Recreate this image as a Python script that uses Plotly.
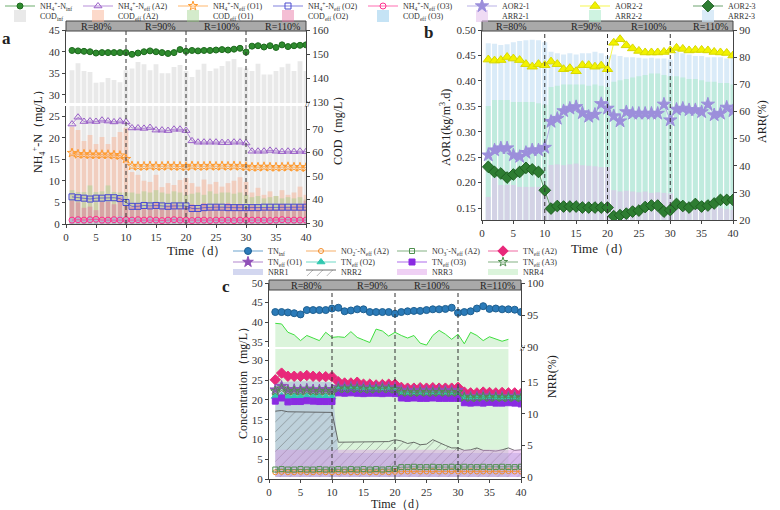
import plotly.graph_objects as go

SERIF = "Liberation Serif"
W, H = 780, 510


def px(v):
    return v / W


def py(v):
    return 1 - v / H


# ---------------- data ----------------
days = list(range(1, 41))
days_nrr4 = list(range(1, 39))
period_labels = ["R=80%", "R=90%", "R=100%", "R=110%"]
period_bounds = [10, 20, 30]
x_tickvals = [0, 5, 10, 15, 20, 25, 30, 35, 40]

# Panel a: NH4+-N (mg/L)
nh4_inf = [40.3, 40.2, 40.1, 40.0, 39.7, 39.8, 39.8, 39.8, 39.8, 39.8,
           39.4, 39.7, 40.0, 40.2, 40.0, 39.8, 39.6, 39.8, 40.5, 40.1,
           40.3, 40.2, 40.3, 40.3, 40.4, 40.5, 40.4, 40.6, 40.8, 39.9,
           41.3, 41.4, 41.1, 41.4, 41.0, 41.6, 41.2, 41.4, 41.5, 41.6]
nh4_a2 = [23.2, 24.8, 23.8, 23.9, 23.8, 24.1, 23.9, 23.7, 23.9, 23.7,
          22.3, 22.3, 22.2, 22.4, 21.8, 21.8, 21.7, 22.0, 22.0, 21.7,
          19.3, 19.0, 19.0, 19.0, 19.0, 18.9, 18.9, 19.0, 19.0, 18.8,
          16.9, 16.9, 16.9, 17.1, 16.9, 16.8, 16.9, 16.8, 16.9, 16.8]
nh4_o1 = [16.5, 16.2, 16.2, 16.1, 16.1, 16.1, 16.1, 16.0, 15.9, 15.1,
          13.5, 13.4, 13.4, 13.5, 13.4, 13.4, 13.5, 13.4, 13.4, 13.3,
          13.5, 13.4, 13.4, 13.5, 13.4, 13.5, 13.4, 13.5, 13.4, 13.3,
          13.2, 13.2, 13.3, 13.2, 13.2, 13.2, 13.3, 13.2, 13.2, 13.1]
nh4_o2 = [6.3, 6.1, 6.0, 5.8, 6.0, 6.0, 6.1, 6.1, 5.9, 5.0,
          4.1, 4.1, 4.3, 4.2, 4.3, 4.2, 4.1, 4.2, 4.2, 4.2,
          3.6, 3.6, 3.8, 3.9, 3.9, 3.9, 3.8, 3.8, 3.8, 3.8,
          3.8, 3.8, 3.9, 3.9, 3.9, 3.9, 3.9, 3.9, 3.9, 3.9]
nh4_o3 = [0.9, 1.0, 0.9, 1.0, 1.1, 0.9, 0.9, 1.0, 0.9, 1.0,
          0.9, 1.0, 0.9, 1.0, 0.9, 0.8, 0.9, 1.0, 0.9, 0.9,
          0.8, 0.9, 0.9, 0.8, 0.9, 0.9, 0.9, 0.8, 0.9, 0.9,
          0.9, 0.9, 0.9, 0.8, 0.9, 1.0, 0.9, 0.9, 0.9, 0.9]
# Panel a: COD (mg/L)
cod_inf = [143.3, 146.2, 142.9, 142.5, 138.0, 138.3, 140.0, 139.2, 138.3, 143.3,
           144.0, 146.7, 145.8, 143.3, 145.8, 142.0, 142.0, 144.6, 145.4, 143.0,
           140.4, 143.5, 146.0, 143.0, 144.0, 145.0, 147.0, 148.0, 144.5, 144.0,
           143.0, 146.0, 141.5, 141.5, 143.0, 144.5, 146.0, 143.0, 147.0, 143.0]
cod_a2 = [70.9, 69.6, 64.9, 67.5, 63.6, 66.6, 63.6, 66.6, 68.7, 70.5,
          51.7, 50.5, 48.0, 47.5, 50.5, 45.3, 47.0, 46.2, 48.3, 49.2,
          47.0, 45.5, 48.5, 46.5, 47.5, 45.5, 47.0, 48.0, 49.5, 47.5,
          43.0, 45.0, 42.0, 43.5, 41.5, 44.0, 42.0, 43.0, 45.5, 42.0]
cod_o1 = [44.0, 43.2, 43.2, 46.0, 43.2, 43.5, 46.0, 43.2, 43.0, 43.0,
          43.0, 42.5, 43.5, 43.0, 44.0, 43.0, 42.5, 43.5, 43.0, 42.0,
          42.5, 43.0, 42.0, 43.5, 42.5, 43.0, 43.0, 42.5, 43.0, 42.0,
          41.0, 41.5, 40.5, 41.0, 41.5, 40.5, 41.0, 40.5, 41.0, 40.0]
cod_o2 = [39.5, 38.8, 36.5, 37.0, 35.5, 39.0, 39.0, 38.0, 41.0, 37.5,
          37.0, 38.0, 36.0, 37.0, 38.5, 36.5, 37.5, 38.0, 36.5, 37.0,
          38.0, 36.5, 38.5, 37.0, 38.0, 37.0, 38.5, 37.5, 38.0, 36.5,
          37.5, 37.0, 36.5, 37.0, 36.0, 38.0, 37.0, 37.5, 38.0, 39.5]
cod_o3 = [32.0, 32.5, 31.5, 32.5, 32.0, 31.5, 32.0, 32.5, 33.0, 32.0,
          32.5, 32.0, 31.8, 32.2, 32.0, 31.5, 32.0, 32.5, 32.0, 31.8,
          32.0, 32.5, 31.5, 32.0, 32.0, 31.8, 32.5, 32.0, 32.0, 31.5,
          32.0, 31.8, 32.2, 32.0, 31.5, 32.0, 32.5, 32.0, 31.8, 32.0]

# Panel b: AOR (kg/m3.d) and ARR (%)
aor2_1 = [0.254, 0.264, 0.268, 0.268, 0.254, 0.251, 0.259, 0.264, 0.264, 0.269,
          0.320, 0.326, 0.341, 0.346, 0.349, 0.337, 0.330, 0.334, 0.355, 0.346,
          0.331, 0.321, 0.339, 0.336, 0.336, 0.336, 0.336, 0.336, 0.354, 0.323,
          0.344, 0.346, 0.343, 0.343, 0.339, 0.354, 0.333, 0.336, 0.348, 0.341]
aor2_2 = [0.442, 0.440, 0.441, 0.447, 0.444, 0.441, 0.433, 0.428, 0.433, 0.431,
          0.438, 0.433, 0.423, 0.425, 0.419, 0.431, 0.431, 0.428, 0.430, 0.423,
          0.475, 0.482, 0.470, 0.464, 0.459, 0.456, 0.456, 0.456, 0.457, 0.460,
          0.465, 0.463, 0.460, 0.461, 0.461, 0.460, 0.457, 0.456, 0.455, 0.450]
aor2_3 = [0.231, 0.221, 0.218, 0.210, 0.216, 0.221, 0.229, 0.226, 0.221, 0.185,
          0.149, 0.154, 0.153, 0.153, 0.153, 0.151, 0.151, 0.151, 0.151, 0.151,
          0.134, 0.136, 0.139, 0.143, 0.145, 0.152, 0.155, 0.155, 0.143, 0.146,
          0.158, 0.154, 0.151, 0.158, 0.153, 0.155, 0.159, 0.166, 0.166, 0.166]
arr2_1 = [28.5, 35.5, 32.9, 32.9, 32.9, 32.2, 32.2, 32.2, 32.2, 32.2,
          40.3, 40.5, 40.2, 40.5, 40.8, 40.2, 40.0, 39.8, 39.5, 39.5,
          31.0, 30.5, 30.8, 30.5, 30.2, 30.5, 30.0, 30.2, 30.0, 29.8,
          27.0, 26.5, 26.5, 26.0, 26.0, 25.5, 25.0, 24.5, 24.0, 23.7]
arr2_2 = [62.0, 64.2, 64.2, 64.2, 63.5, 63.5, 63.5, 63.5, 63.0, 62.5,
          69.0, 69.5, 70.0, 70.0, 70.0, 70.0, 69.5, 70.0, 69.5, 69.0,
          71.0, 71.5, 72.0, 72.5, 73.0, 73.5, 74.0, 74.0, 73.5, 73.0,
          73.0, 72.5, 72.0, 72.0, 71.5, 71.0, 71.0, 70.5, 70.5, 70.0]
arr2_3 = [85.2, 85.0, 84.5, 84.8, 85.5, 86.0, 86.3, 86.5, 86.3, 85.5,
          82.0, 81.5, 81.0, 81.5, 81.0, 81.5, 81.5, 82.0, 81.5, 80.5,
          81.0, 80.5, 80.0, 80.0, 79.8, 79.5, 79.8, 79.5, 79.5, 79.2,
          82.0, 81.5, 81.0, 80.5, 80.5, 80.0, 80.0, 80.0, 79.5, 80.0]

# Panel c: concentrations (mg/L) and NRR (%)
tn_inf = [42.6, 42.6, 42.5, 42.3, 42.0, 43.1, 43.1, 43.1, 43.1, 43.5,
          43.7, 42.8, 43.0, 43.3, 43.3, 42.6, 42.6, 42.6, 42.6, 42.2,
          42.6, 42.8, 42.9, 42.9, 43.1, 43.3, 43.3, 43.4, 43.7, 42.4,
          42.6, 42.8, 43.5, 44.1, 43.4, 43.5, 43.3, 43.3, 43.2, 42.6]
no2_a2 = [1.7, 1.8, 1.7, 1.7, 1.8, 1.7, 1.7, 1.8, 1.7, 1.7,
          1.7, 1.8, 1.7, 1.7, 1.8, 1.7, 1.7, 1.8, 1.7, 1.8,
          1.9, 1.9, 2.0, 1.9, 1.9, 2.0, 1.9, 1.9, 2.0, 1.9,
          1.9, 2.0, 1.9, 1.9, 2.0, 1.9, 1.9, 2.0, 1.9, 1.9]
no3_a2 = [2.4, 2.5, 2.4, 2.4, 2.5, 2.4, 2.4, 2.5, 2.4, 2.4,
          2.5, 2.4, 2.5, 2.4, 2.5, 2.4, 2.5, 2.4, 2.5, 2.6,
          3.0, 3.0, 3.1, 3.0, 3.0, 3.1, 3.0, 3.0, 3.1, 3.0,
          3.1, 3.0, 3.0, 3.1, 3.0, 3.0, 3.1, 3.0, 3.0, 3.1]
tn_a2 = [25.1, 26.8, 26.0, 26.0, 26.0, 26.2, 26.0, 25.9, 25.9, 25.9,
         24.6, 24.3, 24.3, 24.5, 24.0, 24.0, 23.8, 23.9, 24.0, 24.0,
         23.2, 23.0, 23.0, 23.1, 23.0, 23.1, 23.0, 23.0, 23.0, 23.2,
         22.0, 21.8, 21.8, 22.0, 21.9, 21.8, 21.9, 21.8, 21.8, 21.6]
tn_o1 = [22.6, 23.5, 22.6, 22.7, 22.6, 22.8, 22.6, 22.6, 22.7, 22.6,
         23.3, 23.2, 23.3, 23.3, 23.2, 23.1, 23.2, 23.3, 23.2, 23.1,
         22.5, 22.4, 22.4, 22.5, 22.4, 22.4, 22.5, 22.4, 22.4, 22.5,
         21.0, 20.9, 20.9, 21.1, 20.9, 21.0, 20.9, 20.9, 21.0, 20.8]
tn_o2 = [20.9, 21.0, 20.8, 20.9, 20.8, 20.9, 20.9, 20.8, 20.8, 20.7,
         22.6, 22.5, 22.6, 22.5, 22.4, 22.5, 22.5, 22.4, 22.5, 22.3,
         21.4, 21.3, 21.3, 21.3, 21.2, 21.3, 21.3, 21.2, 21.3, 21.2,
         20.5, 20.4, 20.5, 20.4, 20.5, 20.4, 20.4, 20.5, 20.3, 20.2]
tn_o3 = [19.7, 20.5, 19.5, 19.6, 19.6, 19.8, 19.7, 19.6, 19.6, 19.6,
         21.8, 21.7, 21.8, 21.7, 21.6, 21.7, 21.7, 21.6, 21.7, 21.6,
         20.5, 20.4, 20.5, 20.4, 20.4, 20.5, 20.4, 20.4, 20.4, 20.4,
         19.3, 19.2, 19.3, 19.2, 19.4, 19.2, 19.2, 19.3, 19.2, 19.0]
tn_a3 = [22.2, 22.9, 22.2, 22.3, 22.2, 22.4, 22.2, 22.2, 22.3, 22.2,
         22.9, 22.8, 22.9, 22.9, 22.8, 22.7, 22.8, 22.9, 22.8, 22.7,
         22.0, 21.9, 21.9, 22.0, 21.9, 21.9, 22.0, 21.9, 21.9, 22.0,
         20.7, 20.6, 20.6, 20.8, 20.6, 20.7, 20.6, 20.6, 20.7, 20.5]
nrr1 = [15.0, 15.0, 15.0, 15.1, 15.1, 15.1, 15.1, 15.0, 15.0, 15.0,
        3.8, 3.8, 3.8, 3.8, 3.8, 3.8, 3.8, 3.8, 3.8, 3.8,
        3.8, 3.8, 3.8, 3.8, 3.8, 3.8, 3.8, 3.8, 3.8, 3.8,
        3.8, 3.8, 3.8, 3.8, 3.8, 3.8, 3.8, 3.8, 3.8, 3.8]
nrr2 = [10.4, 10.5, 10.3, 10.3, 10.3, 10.2, 10.2, 10.3, 10.3, 10.2,
        5.5, 5.5, 5.5, 5.6, 5.6, 5.6, 5.6, 5.6, 5.6, 5.9,
        5.7, 5.3, 5.5, 5.1, 5.2, 5.9, 5.4, 5.0, 4.6, 4.6,
        4.2, 4.3, 4.6, 4.2, 4.2, 4.1, 4.3, 4.6, 4.2, 4.3]
nrr3 = [4.3, 4.3, 4.3, 4.3, 4.3, 4.3, 4.3, 4.3, 4.3, 4.3,
        4.3, 4.3, 4.3, 4.3, 4.3, 4.3, 4.3, 4.3, 4.3, 4.3,
        4.3, 4.3, 4.3, 4.3, 4.3, 4.3, 4.3, 4.3, 4.3, 4.3,
        4.3, 4.3, 4.3, 4.3, 4.3, 4.3, 4.3, 4.3, 4.3, 4.3]
nrr4 = [93.7, 93.6, 92.3, 91.9, 91.0, 91.8, 91.4, 91.0, 92.3, 91.5,
        91.6, 91.5, 92.4, 91.5, 91.1, 90.7, 92.8, 92.5, 91.7, 92.3,
        91.8, 91.4, 91.8, 90.6, 90.3, 91.8, 92.6, 92.0, 91.2, 92.0,
        90.5, 92.3, 91.8, 91.0, 91.6, 91.3, 90.9, 91.2]

# ---------------- layout geometry (pixels -> paper) ----------------
XA = [px(66), px(306)]
YA_LOW = [py(224), py(106)]
YA_UP = [py(103), py(30)]
XB = [px(482), px(733)]
YB = [py(220), py(30)]
XC = [px(269), px(521)]
YC_LOW = [py(479), py(349)]
YC_UP = [py(347), py(283)]

fig = go.Figure()


def line_tr(y, name, xa, ya, color, symbol, size, legend, lw, x=None, mline=None):
    return go.Scatter(
        x=days if x is None else x, y=y, name=name, xaxis=xa, yaxis=ya,
        mode="lines+markers", legend=legend, legendwidth=lw,
        line=dict(color=color, width=0.7),
        marker=dict(symbol=symbol, size=size, color=color,
                    line=dict(color=mline or color, width=1)))


# ---- Panel a bars (COD) ----
bar_a = [
    ("COD<sub>inf</sub>", cod_inf, "rgba(215,215,215,0.55)", 33),
    ("COD<sub>eff</sub> (A2)", cod_a2, "rgba(250,180,150,0.5)", 50),
    ("COD<sub>eff</sub> (O1)", cod_o1, "rgba(160,210,140,0.45)", 50),
    ("COD<sub>eff</sub> (O2)", cod_o2, "rgba(230,110,160,0.45)", 50),
    ("COD<sub>eff</sub> (O3)", cod_o3, "rgba(140,200,235,0.5)", 50),
]
for name, vals, col, lw in bar_a:
    fig.add_bar(x=days, y=vals, name=name, xaxis="x", yaxis="y", width=0.8,
                marker=dict(color=col, line=dict(width=0)), legend="legend2",
                legendwidth=lw)
fig.add_bar(x=days, y=cod_inf, xaxis="x", yaxis="y3", width=0.8, showlegend=False,
            marker=dict(color="rgba(215,215,215,0.55)", line=dict(width=0)))

# ---- Panel a lines (NH4) ----
fig.add_trace(line_tr(nh4_inf, "NH<sub>4</sub><sup>+</sup>-N<sub>inf</sub>", "x", "y4",
                      "#2E8B2E", "circle", 6, "legend", 33, mline="#1E6B1E"))
fig.add_trace(line_tr(nh4_a2, "NH<sub>4</sub><sup>+</sup>-N<sub>eff</sub> (A2)", "x", "y2",
                      "#9A5FC8", "triangle-up-open", 7, "legend", 50))
fig.add_trace(line_tr(nh4_o1, "NH<sub>4</sub><sup>+</sup>-N<sub>eff</sub> (O1)", "x", "y2",
                      "#FF9A2E", "star-open", 7, "legend", 50))
fig.add_trace(line_tr(nh4_o2, "NH<sub>4</sub><sup>+</sup>-N<sub>eff</sub> (O2)", "x", "y2",
                      "#4A4ACF", "square-open", 6, "legend", 50))
fig.add_trace(line_tr(nh4_o3, "NH<sub>4</sub><sup>+</sup>-N<sub>eff</sub> (O3)", "x", "y2",
                      "#FF2F8F", "circle-open", 6, "legend", 50))

# ---- Panel b bars (ARR) ----
bar_b = [
    ("ARR2-3", arr2_3, "rgba(205,228,245,0.75)", 3),
    ("ARR2-2", arr2_2, "rgba(175,235,205,0.6)", 2),
    ("ARR2-1", arr2_1, "rgba(225,190,235,0.55)", 1),
]
for name, vals, col, rank in bar_b:
    fig.add_bar(x=days, y=vals, name=name, xaxis="x2", yaxis="y5", width=0.8,
                marker=dict(color=col, line=dict(width=0)), legend="legend4",
                legendrank=rank, legendwidth=68)

# ---- Panel b lines (AOR) ----
fig.add_trace(line_tr(aor2_1, "AOR2-1", "x2", "y6", "#9C8FDB", "star", 10, "legend3", 68))
fig.add_trace(line_tr(aor2_2, "AOR2-2", "x2", "y6", "#F2F200", "triangle-up", 9, "legend3", 68,
                      mline="#D8D800"))
fig.add_trace(line_tr(aor2_3, "AOR2-3", "x2", "y6", "#2E7D32", "diamond", 9, "legend3", 68,
                      mline="#1F5F22"))

# ---- Panel c areas (NRR) ----
fig.add_trace(go.Scatter(x=days_nrr4, y=nrr4, name="NRR4", xaxis="x3", yaxis="y7",
                         mode="none", fill="tozeroy", fillcolor="rgba(190,235,190,0.55)",
                         legend="legend7", legendrank=4, legendwidth=40))
fig.add_trace(go.Scatter(x=days_nrr4, y=nrr4, xaxis="x3", yaxis="y9", showlegend=False,
                         mode="lines", line=dict(color="#3FDF3F", width=1),
                         fill="tozeroy", fillcolor="rgba(190,235,190,0.55)"))
fig.add_trace(go.Scatter(x=days, y=nrr1, name="NRR1", xaxis="x3", yaxis="y7",
                         mode="none", fill="tozeroy", fillcolor="rgba(150,160,220,0.42)",
                         legend="legend7", legendrank=1, legendwidth=28))
fig.add_trace(go.Scatter(x=days, y=nrr2, name="NRR2", xaxis="x3", yaxis="y7",
                         mode="lines", line=dict(color="#4A4A4A", width=0.8),
                         fill="tozeroy", fillcolor="rgba(0,0,0,0)",
                         fillpattern=dict(shape="/", fgcolor="#555555",
                                          bgcolor="rgba(0,0,0,0)", size=7, solidity=0.12),
                         legend="legend7", legendrank=2, legendwidth=46))
fig.add_trace(go.Scatter(x=days, y=nrr3, name="NRR3", xaxis="x3", yaxis="y7",
                         mode="none", fill="tozeroy", fillcolor="rgba(220,150,230,0.45)",
                         legend="legend7", legendrank=3, legendwidth=46))

# ---- Panel c lines (TN etc.) ----
fig.add_trace(line_tr(tn_inf, "TN<sub>inf</sub>", "x3", "y10", "#2B7BB9", "circle", 7,
                      "legend5", 28, mline="#1E5F90"))
fig.add_trace(line_tr(no2_a2, "NO<sub>2</sub><sup>-</sup>-N<sub>eff</sub> (A2)", "x3", "y8",
                      "#F28C28", "circle-open", 5, "legend5", 46))
fig.add_trace(line_tr(no3_a2, "NO<sub>3</sub><sup>-</sup>-N<sub>eff</sub> (A2)", "x3", "y8",
                      "#4F8F4F", "square-open", 5, "legend5", 46))
fig.add_trace(line_tr(tn_a2, "TN<sub>eff</sub> (A2)", "x3", "y8", "#E8287A", "diamond", 8,
                      "legend5", 40))
fig.add_trace(line_tr(tn_o1, "TN<sub>eff</sub> (O1)", "x3", "y8", "#9050B8", "star", 8,
                      "legend6", 28))
fig.add_trace(line_tr(tn_o2, "TN<sub>eff</sub> (O2)", "x3", "y8", "#30C8B0", "triangle-up", 7,
                      "legend6", 46))
fig.add_trace(line_tr(tn_o3, "TN<sub>eff</sub> (O3)", "x3", "y8", "#8A2BE2", "square", 6,
                      "legend6", 46))
fig.add_trace(line_tr(tn_a3, "TN<sub>eff</sub> (A3)", "x3", "y8", "#4F8F4F", "star-open", 7,
                      "legend6", 40))

# ---------------- axes ----------------
AX = dict(showgrid=False, zeroline=False, showline=True, linecolor="#444", linewidth=1,
          ticks="outside", ticklen=3, tickwidth=1, tickcolor="#444",
          tickfont=dict(family=SERIF, size=11, color="#333"))

layout_axes = dict(
    xaxis=dict(domain=XA, anchor="y", range=[0, 40], tickvals=x_tickvals, **AX),
    yaxis=dict(domain=YA_LOW, anchor="x", side="right", range=[29.6, 79.8],
               tickvals=[30, 40, 50, 60, 70], **AX),
    yaxis2=dict(overlaying="y", anchor="x", side="left", range=[0, 27.4],
                tickvals=[0, 5, 10, 15, 20, 25], **AX),
    yaxis3=dict(domain=YA_UP, anchor="x", side="right", range=[129.6, 160.05],
                tickvals=[130, 140, 150, 160], **AX),
    yaxis4=dict(overlaying="y3", anchor="x", side="left", range=[28.1, 45.05],
                tickvals=[30, 35, 40, 45], **AX),
    xaxis2=dict(domain=XB, anchor="y5", range=[0, 40], tickvals=x_tickvals, **AX),
    yaxis5=dict(domain=YB, anchor="x2", side="right", range=[20, 90.05],
                tickvals=[20, 30, 40, 50, 60, 70, 80, 90], **AX),
    yaxis6=dict(overlaying="y5", anchor="x2", side="left", range=[0.1265, 0.5002],
                tickvals=[0.15, 0.20, 0.25, 0.30, 0.35, 0.40, 0.45, 0.50],
                tickformat=".2f", **AX),
    xaxis3=dict(domain=XC, anchor="y7", range=[0, 40], tickvals=x_tickvals, **AX),
    yaxis7=dict(domain=YC_LOW, anchor="x3", side="right", range=[-0.3, 20.2],
                tickvals=[0, 5, 10, 15], **AX),
    yaxis8=dict(overlaying="y7", anchor="x3", side="left", range=[0, 32.9],
                tickvals=[0, 5, 10, 15, 20, 25, 30], **AX),
    yaxis9=dict(domain=YC_UP, anchor="x3", side="right", range=[90, 100.0],
                tickvals=[90, 95, 100], **AX),
    yaxis10=dict(overlaying="y9", anchor="x3", side="left", range=[33.7, 50.0],
                 tickvals=[35, 40, 45, 50], **AX),
)


def leg(xp, yp):
    return dict(x=px(xp), y=py(yp), xanchor="left", yanchor="middle", orientation="h",
                font=dict(family=SERIF, size=8, color="#333"), bgcolor="rgba(0,0,0,0)",
                itemwidth=30, tracegroupgap=0, traceorder="normal", entrywidthmode="pixels")


# ---------------- shapes ----------------
shapes = []
panels = [
    ("x", XA, 224, 30, 21, [5, 15.7, 26, 36]),
    ("x2", XB, 220, 30, 21, [4.7, 16.7, 26.6, 36.4]),
    ("x3", XC, 479, 283, 280, [5.9, 16.5, 25.9, 36.2]),
]
annotations = []
for xref, dom, ybot, ytop, bandtop, lpos in panels:
    for b in period_bounds:
        shapes.append(dict(type="line", xref=xref, yref="paper", x0=b, x1=b,
                           y0=py(ybot), y1=py(ytop),
                           line=dict(color="#333", width=1, dash="4px,3px"), layer="above"))
    bandbot = bandtop + 10
    shapes.append(dict(type="rect", xref="paper", yref="paper", x0=dom[0], x1=dom[1],
                       y0=py(bandbot), y1=py(bandtop), fillcolor="#A9A9A9",
                       line=dict(color="#444", width=1), layer="above"))
    for lab, xp in zip(period_labels, lpos):
        annotations.append(dict(text=lab, xref=xref, yref="paper", x=xp,
                                y=py(bandtop + 5), showarrow=False,
                                xanchor="center", yanchor="middle",
                                font=dict(family=SERIF, size=10, color="#222")))


def ann(text, x, y, size=12, angle=0, bold=False):
    t = f"<b>{text}</b>" if bold else text
    return dict(text=t, x=px(x), y=py(y), xref="paper", yref="paper", showarrow=False,
                xanchor="center", yanchor="middle",
                textangle=angle, font=dict(family=SERIF, size=size, color="#222"))


annotations += [
    ann("a", 6, 39, 17, bold=True),
    ann("b", 428, 33, 17, bold=True),
    ann("c", 226, 286, 17, bold=True),
    ann("NH<sub>4</sub><sup>+</sup>-N（mg/L）", 38, 129, 12, -90),
    ann("COD（mg/L）", 338, 128, 12, -90),
    ann("Time（d）", 196, 250, 13),
    ann("AOR1(kg/m<sup>3</sup>.d)", 445, 128, 12, -90),
    ann("ARR(%)", 762, 122, 12, -90),
    ann("Time（d）", 600, 248, 13),
    ann("Concentration（mg/L）", 243, 380, 12, -90),
    ann("NRR(%)", 552, 377, 12, -90),
    ann("Time（d）", 398, 504, 12),
    ann("//", 308, 104, 9),
    ann("//", 523, 348, 9),
]

fig.update_layout(
    width=W, height=H,
    margin=dict(l=0, r=0, t=0, b=0, autoexpand=False),
    paper_bgcolor="white", plot_bgcolor="white",
    barmode="overlay", bargap=0.2,
    font=dict(family=SERIF, color="#333"),
    shapes=shapes, annotations=annotations,
    legend=leg(0, 6), legend2=leg(0, 16),
    legend3=leg(462, 6), legend4=leg(462, 16),
    legend5=leg(228, 251), legend6=leg(228, 262), legend7=leg(228, 272),
    **layout_axes,
)

fig.write_html("out.html")
